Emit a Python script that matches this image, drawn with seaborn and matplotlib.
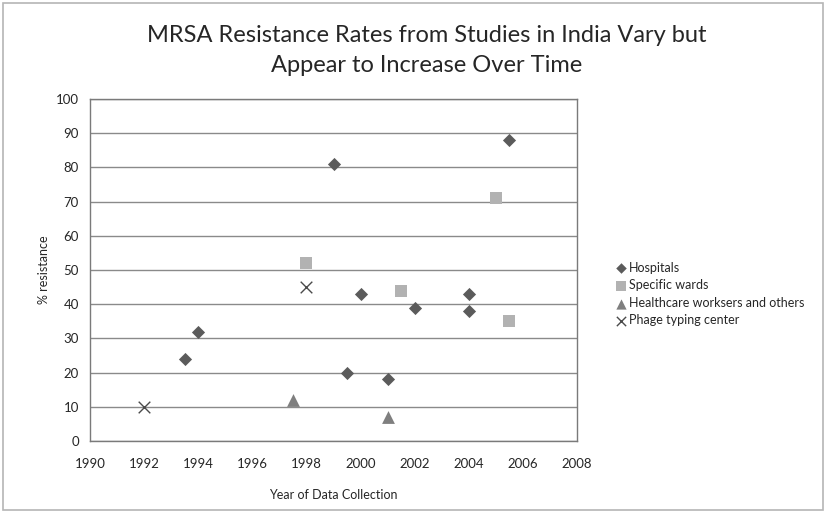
import matplotlib
matplotlib.use("Agg")
import matplotlib.pyplot as plt
import seaborn as sns
import pandas as pd
from matplotlib.patches import Rectangle

hosp_x = [1993.5, 1994, 1999, 1999.5, 2000, 2001, 2002, 2004, 2004, 2005.5]
hosp_y = [24, 32, 81, 20, 43, 18, 39, 43, 38, 88]
ward_x = [1998, 2001.5, 2005, 2005.5]
ward_y = [52, 44, 71, 35]
hcw_x = [1997.5, 2001]
hcw_y = [12, 7]
phage_x = [1992, 1998]
phage_y = [10, 45]

series = ["Hospitals", "Specific wards", "Healthcare worksers and others", "Phage typing center"]
xticks = [1990, 1992, 1994, 1996, 1998, 2000, 2002, 2004, 2006, 2008]
yticks = list(range(0, 101, 10))

df = pd.concat([
    pd.DataFrame({"year": hosp_x, "pct": hosp_y, "group": series[0]}),
    pd.DataFrame({"year": ward_x, "pct": ward_y, "group": series[1]}),
    pd.DataFrame({"year": hcw_x, "pct": hcw_y, "group": series[2]}),
    pd.DataFrame({"year": phage_x, "pct": phage_y, "group": series[3]}),
])

sns.set_style("white")
plt.rcParams["font.family"] = ["Lato", "DejaVu Sans"]

fig = plt.figure(figsize=(8.26, 5.13), dpi=100)
ax = fig.add_axes([90/826, 1-441/513, (577-90)/826, (441-99)/513])

palette = {series[0]: "#5b5b5b", series[1]: "#b2b2b2", series[2]: "#7f7f7f", series[3]: "#4a4a4a"}
markers = {series[0]: "D", series[1]: "s", series[2]: "^", series[3]: "x"}
sizes = {series[0]: 45, series[1]: 85, series[2]: 85, series[3]: 70}

for g in series:
    sub = df[df.group == g]
    kw = dict(s=sizes[g], marker=markers[g], color=palette[g], label=g, zorder=3)
    if markers[g] == "x":
        kw["linewidth"] = 1.0
    else:
        kw["linewidth"] = 0
    sns.scatterplot(data=sub, x="year", y="pct", ax=ax, **kw)

ax.set_xlim(1990, 2008)
ax.set_ylim(0, 100)
ax.set_xticks(xticks)
ax.set_yticks(yticks)
ax.set_xticklabels([str(t) for t in xticks], fontsize=9.5)
ax.set_yticklabels([str(t) for t in yticks], fontsize=9.5)
ax.tick_params(axis="x", length=0, pad=12)
ax.tick_params(axis="y", length=0, pad=8)
ax.yaxis.grid(True, color="#8a8a8a", linewidth=1.0)
ax.set_axisbelow(True)
for s in ax.spines.values():
    s.set_color("#7a7a7a")
    s.set_linewidth(1.0)

ax.set_xlabel("Year of Data Collection", fontsize=9, labelpad=14)
ax.set_ylabel("% resistance", fontsize=9, labelpad=4)

leg = ax.legend(loc="center left", bbox_to_anchor=((608-90)/487, (441-294)/342), frameon=False,
                fontsize=9, handletextpad=0.1, labelspacing=0.45, borderaxespad=0,
                handlelength=1.2, markerscale=0.8)

fig.text(427/826, 1-36/513, "MRSA Resistance Rates from Studies in India Vary but",
         ha="center", va="center", fontsize=17)
fig.text(427/826, 1-66/513, "Appear to Increase Over Time",
         ha="center", va="center", fontsize=17)

fig.patches.append(Rectangle((3/826, 3/513), 1-6/826, 1-6/513, transform=fig.transFigure,
                             fill=False, edgecolor="#b5b5b5", linewidth=1.2))

fig.savefig("out.png", dpi=100)
